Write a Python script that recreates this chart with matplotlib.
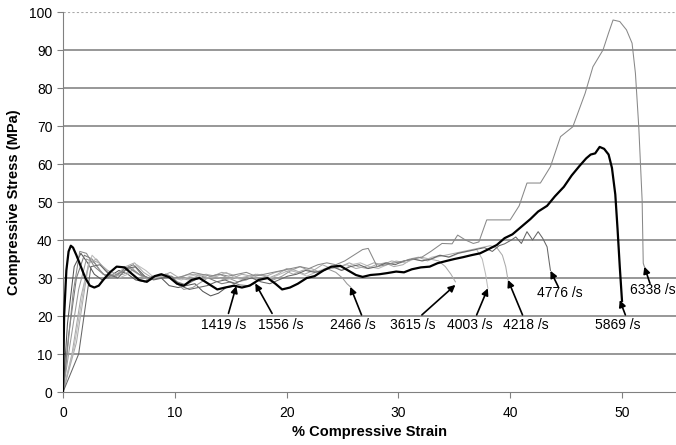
import matplotlib
matplotlib.use("Agg")
import matplotlib.pyplot as plt

plt.rcParams['font.family'] = ['Liberation Sans', 'DejaVu Sans']

# strain (%) / stress (MPa)
s1419 = [0, 0.4, 1.0, 1.6, 2.2, 2.8, 3.5, 4.2, 5.0, 5.8, 6.5, 7.3, 8.0, 8.8, 9.5, 10.3, 11.0, 11.8, 12.5, 13.2, 13.9, 14.6, 15.5]
p1419 = [0, 18, 33, 36.5, 34, 31, 29.5, 30.5, 32, 31, 29.5, 29, 30.5, 30, 28, 27.5, 28, 28.5, 26.5, 25.3, 26, 27.5, 28]

s1556 = [0, 0.5, 1.2, 1.9, 2.6, 3.3, 4.0, 4.8, 5.5, 6.3, 7.0, 7.8, 8.6, 9.4, 10.2, 11.0, 11.8, 12.6, 13.4, 14.2, 15.0, 15.8, 16.5, 17.2]
p1556 = [0, 15, 30, 36, 35, 32, 30, 30.5, 32.5, 33.5, 31, 29.5, 30, 30.8, 29, 28.2, 29.5, 30.5, 29.5, 28.5, 29, 28.2, 28, 28.6]

s2466 = [0, 0.6, 1.4, 2.1, 2.8, 3.6, 4.4, 5.2, 6.0, 6.8, 7.6, 8.4, 9.2, 10.0, 10.8, 11.6, 12.4, 13.2, 14.0, 14.8, 15.6, 16.4,
         17.2, 18.0, 18.8, 19.6, 20.4, 21.2, 22.0, 22.8, 23.6, 24.4, 25.0, 25.4, 25.7]
p2466 = [0, 12, 27, 35, 34, 31, 30, 31.5, 33, 31, 29.5, 30.5, 31, 29, 27, 27.5, 29, 30.5, 31, 30, 29, 29.5,
         31, 30.5, 29.5, 30.5, 32, 33, 32, 31.5, 32.5, 31.5, 30, 28.5, 27.7]

s3615 = [0, 0.8, 1.6, 2.4, 3.2, 4.0, 4.8, 5.6, 6.4, 7.2, 8.0, 8.8, 9.6, 10.4, 11.2, 12.0, 12.8, 13.6, 14.4, 15.2, 16.0, 16.8,
         17.6, 18.4, 19.2, 20.0, 20.8, 21.6, 22.4, 23.2, 24.0, 24.8, 25.6, 26.4, 27.2, 28.0, 28.8, 29.6, 30.4, 31.2, 32.0,
         32.8, 33.6, 34.2, 34.7, 35.1]
p3615 = [0, 10, 25, 35, 34, 32, 31, 33, 34, 31.5, 30, 30.5, 31.5, 30, 29.5, 30.5, 31, 30.5, 29.5, 30, 31, 30.5,
         29.5, 30, 31, 32.5, 32, 31, 32, 33.5, 32.5, 33, 34, 33, 32.5, 33.5, 34, 33, 33.5, 35, 35.5,
         35, 34.5, 33, 31, 29]

s4003 = [0, 1.0, 2.0, 2.6, 3.4, 4.2, 5.0, 5.8, 6.6, 7.4, 8.2, 9.0, 9.8, 10.6, 11.4, 12.2, 13.0, 13.8, 14.6, 15.4, 16.2,
         17.0, 17.8, 18.6, 19.4, 20.2, 21.0, 21.8, 22.6, 23.4, 24.2, 25.0, 25.8, 26.6, 27.4, 28.2, 29.0, 29.8, 30.6,
         31.4, 32.2, 33.0, 33.8, 34.6, 35.4, 36.2, 37.0, 37.5, 37.8, 38.0]
p4003 = [0, 12, 30, 36, 33.5, 31, 30, 31, 33.5, 32, 30, 30.5, 30, 29.5, 30.5, 31, 30, 30.5, 31.5, 30, 29.5,
         30.5, 31, 30, 31, 32, 31.5, 30.5, 31.5, 32.5, 33, 32, 33.5, 34, 33, 32.5, 33.5, 34.5, 34,
         35, 34.5, 35.5, 36, 35.5, 36.5, 37, 37.5, 35, 31, 27.3]

s4218 = [0, 1.2, 2.3, 3.0, 3.8, 4.6, 5.4, 6.2, 7.0, 7.8, 8.6, 9.4, 10.2, 11.0, 11.8, 12.6, 13.4, 14.2, 15.0, 15.8, 16.6,
         17.4, 18.2, 19.0, 19.8, 20.6, 21.4, 22.2, 23.0, 23.8, 24.6, 25.4, 26.2, 27.0, 27.8, 28.6, 29.4, 30.2, 31.0,
         31.8, 32.6, 33.4, 34.2, 35.0, 35.8, 36.6, 37.4, 38.2, 38.8, 39.3, 39.6, 39.8]
p4218 = [0, 13, 34, 35, 32, 30.5, 31, 32, 30.5, 29.5, 31, 30.5, 30, 30.8, 31, 29.8, 30.5, 31.5, 31, 30, 30.5,
         31, 30.5, 31.5, 32, 31, 32, 32.5, 31.5, 32.5, 33, 33.5, 32.5, 33, 34, 33.5, 34.5, 34, 35,
         35.5, 34.5, 35.5, 36, 36.5, 37, 37.5, 38, 38.5, 38, 36, 33, 29.5]

s4776 = [0, 1.4, 2.5, 3.3, 4.1, 4.9, 5.7, 6.5, 7.3, 8.1, 8.9, 9.7, 10.5, 11.3, 12.1, 12.9, 13.7, 14.5, 15.3, 16.1, 16.9,
         17.7, 18.5, 19.3, 20.1, 20.9, 21.7, 22.5, 23.3, 24.1, 24.9, 25.7, 26.5, 27.3, 28.1, 28.9, 29.7, 30.5, 31.3,
         32.1, 32.9, 33.7, 34.5, 35.3, 36.1, 36.9, 37.7, 38.4, 39.0, 39.5, 40.1, 40.5, 41.0, 41.5, 42.0, 42.5, 42.9,
         43.3, 43.5, 43.6]
p4776 = [0, 10, 33, 33.5, 31, 30, 32.5, 33, 30.5, 29.5, 30, 30.5, 28, 27, 27.5, 28, 29, 29.5, 28.5, 29.5, 30,
         29, 28.5, 29.5, 30.5, 31, 32, 31.5, 32, 33, 32, 33, 33.5, 32.5, 33, 34, 33.5, 34.5, 35,
         34.5, 35, 36, 35.5, 36.5, 37, 37.5, 38, 37, 38.5, 39, 40, 40.8, 39.1, 42.2, 40, 42.2, 40.5,
         38.2, 34, 32]

s5869 = [0, 0.1, 0.3, 0.5, 0.7, 0.9, 1.2, 1.6, 2.0, 2.4, 2.8, 3.2, 3.6, 4.2, 4.8, 5.5, 6.2, 6.8, 7.5, 8.2, 8.8, 9.5,
         10.2, 10.8, 11.5, 12.2, 13.0, 13.8, 14.5, 15.3, 16.0, 16.7, 17.5, 18.3, 19.0, 19.6, 20.3, 21.0, 21.8, 22.5,
         23.3, 24.0, 24.8, 25.5, 26.2, 26.8, 27.5, 28.3, 29.0, 29.8, 30.5, 31.2, 32.0, 32.8, 33.5, 34.3, 35.0, 35.8,
         36.5, 37.3, 38.0, 38.8, 39.5, 40.2, 41.0, 41.8, 42.5, 43.3, 44.0, 44.8, 45.5, 46.2, 46.8, 47.2, 47.6, 48.0,
         48.4, 48.8, 49.1, 49.4, 49.6, 49.8, 50.0]
p5869 = [0, 20, 32, 37, 38.5, 38, 36, 33, 30, 28, 27.5, 28, 29.5, 31.5, 33, 32.8, 31, 29.5, 29, 30.5, 31, 30.2,
         28.5, 28, 29.5, 30, 28.5, 27, 27.5, 28, 27.5, 28, 29.5, 30, 28.5, 27, 27.5, 28.5, 30, 30.5,
         32, 33, 33.2, 32, 30.8, 30.3, 30.8, 31, 31.3, 31.7, 31.5, 32.3, 32.8, 33, 33.9, 34.5, 35, 35.5,
         36, 36.5, 37.5, 38.7, 40.5, 41.5, 43.5, 45.5, 47.5, 49, 51.5, 54, 57, 59.5, 61.5, 62.5, 62.8, 64.5,
         64, 62.5, 59, 52, 43, 33, 24]

s6338 = [0, 0.3, 0.9, 1.5, 2.1, 2.8, 3.6, 4.4, 5.2, 6.0, 6.8, 7.6, 8.4, 9.2, 10.0, 10.8, 11.6, 12.4, 13.2, 14.0, 14.8,
         15.6, 16.4, 17.2, 18.0, 18.8, 19.6, 20.4, 21.2, 22.0, 22.8, 23.6, 24.4, 25.2, 26.0, 26.8, 27.3, 28.1, 28.9,
         29.7, 30.5, 31.3, 32.1, 32.9, 33.9, 34.8, 35.3, 36.0, 36.7, 37.2, 37.9, 39.0, 40.0, 40.8, 41.5, 42.7, 43.6,
         44.5, 45.6, 46.7, 47.4, 48.3, 48.8, 49.2, 49.8, 50.4, 50.9, 51.2, 51.5, 51.8, 51.9, 52.0]
p6338 = [0, 8, 26, 37, 36.5, 33, 31, 30.5, 31.5, 32.5, 31, 30, 30.5, 31, 30, 30.5, 31.5, 31, 30.5, 31, 30.5,
         31, 31.5, 30.5, 31, 31.5, 32, 32.5, 33, 32.5, 33.5, 34, 33.5, 34.5, 36, 37.5, 37.8, 33, 33.5,
         34, 34.5, 35, 35.5, 37, 39.1, 39, 41.3, 40, 39.1, 39.5, 45.3, 45.3, 45.3, 49, 55, 55, 59.3,
         67.2, 69.8, 78.6, 85.6, 90, 94.5, 97.9, 97.5, 95.3, 91.8, 83.9, 69.8, 50.5, 33.9, 33]

# rate labels: text, arrow tip (strain, stress), arrow tail, label position
rates = ['1419 /s', '1556 /s', '2466 /s', '3615 /s', '4003 /s', '4218 /s', '4776 /s', '5869 /s', '6338 /s']
tips = [(15.5, 27.9), (17.2, 28.6), (25.7, 27.7), (35.1, 28.2), (38.0, 27.3), (39.8, 29.5), (43.6, 31.9), (49.8, 24.2), (52.0, 33.0)]
tails = [(14.8, 20.7), (18.7, 20.7), (26.7, 20.3), (32.1, 20.3), (37.0, 20.3), (41.1, 20.3), (44.3, 27.7), (50.3, 20.3), (52.5, 28.6)]
label_pos = [(14.4, 17.6), (19.5, 17.6), (25.9, 17.6), (31.3, 17.6), (36.4, 17.6), (41.4, 17.6), (44.4, 26.0), (49.6, 17.6), (52.8, 26.8)]

fig = plt.figure(figsize=(6.76, 4.45), dpi=100)
ax = fig.add_axes([0.0932, 0.119, 0.9068, 0.854])

for y in range(10, 100, 10):
    ax.axhline(y, color='#7a7a7a', lw=1.1, zorder=0)
ax.axhline(100, color='#aaaaaa', lw=0.8, ls=(0, (2, 2)), zorder=0)

thin = [(s1419, p1419, '#555555'), (s1556, p1556, '#777777'), (s2466, p2466, '#999999'),
        (s3615, p3615, '#aaaaaa'), (s4003, p4003, '#bbbbbb'), (s4218, p4218, '#aaaaaa'),
        (s4776, p4776, '#666666'), (s6338, p6338, '#888888')]
for sx, sy, c in thin:
    ax.plot(sx, sy, color=c, lw=0.75, zorder=2)
ax.plot(s5869, p5869, color='black', lw=1.6, zorder=3)

for txt, tip, tail, pos in zip(rates, tips, tails, label_pos):
    ax.annotate('', xy=tip, xytext=tail,
                arrowprops=dict(arrowstyle='-|>', color='black', lw=1.2, mutation_scale=10,
                                shrinkA=0, shrinkB=0), zorder=4)
    ax.text(pos[0], pos[1], txt, ha='center', va='center', fontsize=10, zorder=4)

ax.set_xlim(0, 54.83)
ax.set_ylim(0, 100)
ax.set_xticks([0, 10, 20, 30, 40, 50])
ax.set_yticks(range(0, 101, 10))
for side in ['top', 'right']:
    ax.spines[side].set_visible(False)
ax.spines['left'].set_color('#808080')
ax.spines['bottom'].set_color('#808080')
ax.tick_params(axis='both', colors='#808080', labelcolor='black', labelsize=10, length=4, direction='out')
ax.tick_params(axis='x', pad=6)
ax.set_xlabel('% Compressive Strain', fontsize=10.5, fontweight='bold', labelpad=4)
ax.set_ylabel('Compressive Stress (MPa)', fontsize=10.5, fontweight='bold', labelpad=6)

fig.savefig('out.png', dpi=100)
